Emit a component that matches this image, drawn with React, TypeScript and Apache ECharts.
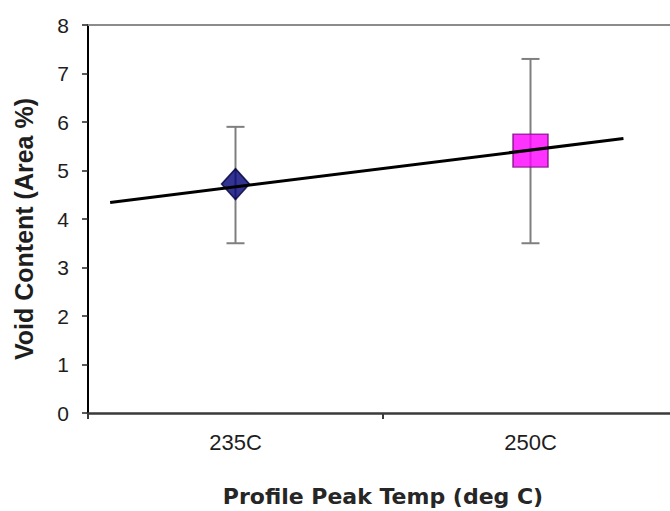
import React, { useEffect, useRef } from "react";
import * as echarts from "echarts";

const categories = ["235C", "250C"];
const meanValues = [4.72, 5.41];
const errLow = [3.5, 3.5];
const errHigh = [5.9, 7.3];
const yTicks = [0, 1, 2, 3, 4, 5, 6, 7, 8];
// trend line endpoints: [category position (1 = first category), value]
const trendStart = [0.575, 4.34];
const trendEnd = [2.315, 5.66];
const xTitle = "Profile Peak Temp (deg C)";
const yTitle = "Void Content (Area %)";

const markerStyles = [
  { symbol: "diamond", symbolSize: [28, 31], itemStyle: { color: "#000075", borderColor: "#00003a", borderWidth: 1.5 } },
  { symbol: "rect", symbolSize: [35, 33], itemStyle: { color: "#ff00ff", borderColor: "#7a0a7a", borderWidth: 1.5 } },
];

export default function App() {
  const ref = useRef<HTMLDivElement>(null);
  useEffect(() => {
    if (!ref.current) return;
    document.documentElement.style.overflow = "hidden";
    document.body.style.margin = "0";
    document.body.style.overflow = "hidden";
    const chart = echarts.init(ref.current, null, { renderer: "svg" });
    const tickFont = "Liberation Sans, Arial, sans-serif";
    chart.setOption({
      animation: false,
      backgroundColor: "#ffffff",
      grid: {
        left: 88,
        top: 25,
        width: 590,
        bottom: 98,
        containLabel: false,
        outerBoundsMode: "none",
        show: false,
      },
      xAxis: [
        {
          type: "category",
          data: categories,
          boundaryGap: true,
          axisLine: { show: true, lineStyle: { color: "#3a3a3a", width: 2.5 } },
          axisTick: { show: true, length: 6, lineStyle: { color: "#3a3a3a", width: 2 } },
          axisLabel: { fontSize: 22, fontFamily: tickFont, color: "#1e1e1e", margin: 18 },
          splitLine: { show: false },
        },
        {
          type: "value",
          min: 0.5,
          max: 2.5,
          position: "top",
          axisLine: { show: true, onZero: false, lineStyle: { color: "#8c8c8c", width: 2 } },
          axisTick: { show: false },
          axisLabel: { show: false },
          splitLine: { show: false },
        },
      ],
      yAxis: {
        type: "value",
        min: yTicks[0],
        max: yTicks[yTicks.length - 1],
        interval: 1,
        axisLine: { show: true, lineStyle: { color: "#000000", width: 2 } },
        axisTick: { show: true, inside: false, length: 6, lineStyle: { color: "#222", width: 1.5 } },
        axisLabel: { fontSize: 21, fontFamily: tickFont, color: "#1e1e1e", margin: 19 },
        splitLine: { show: false },
      },
      graphic: [
        {
          type: "text",
          x: 383,
          y: 496,
          style: {
            text: xTitle,
            font: "bold 22px 'DejaVu Sans', sans-serif",
            fill: "#262626",
            textAlign: "center",
            textVerticalAlign: "middle",
          },
        },
        {
          type: "text",
          x: 24,
          y: 229,
          rotation: Math.PI / 2,
          style: {
            text: yTitle,
            font: "bold 25px 'Liberation Sans', Arial, sans-serif",
            fill: "#1e1e1e",
            textAlign: "center",
            textVerticalAlign: "middle",
          },
        },
      ],
      series: [
        {
          type: "custom",
          xAxisIndex: 0,
          z: 1,
          data: categories.map((_, i) => [i, errLow[i], errHigh[i]]),
          renderItem: (params: any, api: any) => {
            const lo = api.coord([api.value(0), api.value(1)]);
            const hi = api.coord([api.value(0), api.value(2)]);
            const cap = 9;
            const style = { stroke: "#7f7f7f", lineWidth: 2 };
            return {
              type: "group",
              children: [
                { type: "line", shape: { x1: lo[0], y1: lo[1], x2: hi[0], y2: hi[1] }, style },
                { type: "line", shape: { x1: lo[0] - cap, y1: lo[1], x2: lo[0] + cap, y2: lo[1] }, style },
                { type: "line", shape: { x1: hi[0] - cap, y1: hi[1], x2: hi[0] + cap, y2: hi[1] }, style },
              ],
            };
          },
        },
        {
          type: "scatter",
          xAxisIndex: 0,
          z: 2,
          data: meanValues.map((v, i) => ({ value: [i, v], ...markerStyles[i] })),
        },
        {
          type: "line",
          xAxisIndex: 1,
          z: 3,
          symbol: "none",
          data: [trendStart, trendEnd],
          lineStyle: { color: "#000000", width: 3 },
        },
      ],
    });
    return () => chart.dispose();
  }, []);
  return (
    <div
      style={{ position: "absolute", left: 0, top: 0, width: 670, height: 511, overflow: "hidden", background: "#fff" }}
    >
      <div ref={ref} style={{ width: 700, height: 511 }} />
    </div>
  );
}
